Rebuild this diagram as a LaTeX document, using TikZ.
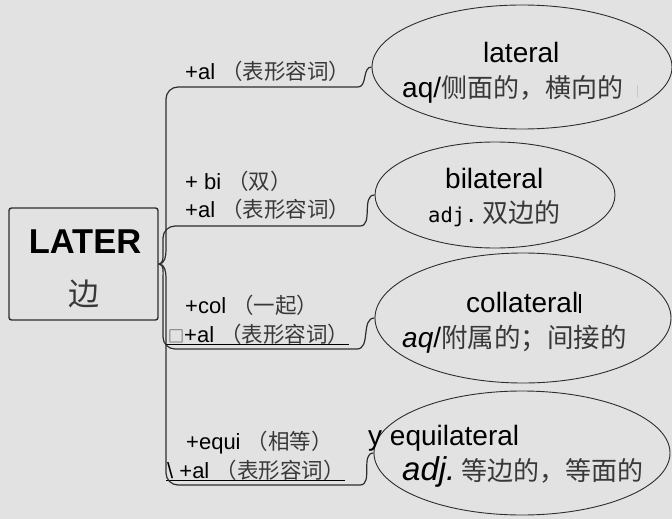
\documentclass[tikz,border=0pt]{standalone}
\usepackage{fontspec}
\setmainfont{Liberation Sans}
\setmonofont{DejaVu Sans Mono}
\newfontfamily\cjk{Noto Sans CJK SC}
\usetikzlibrary{shapes.geometric}
\definecolor{paper}{RGB}{226,226,226}
\definecolor{ink}{RGB}{45,45,45}
% chinese text, optional size in pt
\newcommand\zhtext[2][26]{{\cjk\fontsize{#1}{#1}\selectfont\color{black!78}#2}}

\begin{document}
\begin{tikzpicture}[x=1pt,y=1pt,
  bubble/.style={draw=ink,line width=0.9pt,ellipse,inner sep=0pt},
  branch/.style={draw=ink,line width=1.2pt},
  affix/.style={anchor=base west,inner sep=0pt,font=\fontsize{22}{24}\selectfont},
  gloss/.style={anchor=base west,inner sep=0pt,font=\fontsize{28}{30}\selectfont}]
% page, 672 x 519, origin top left
\fill[paper] (0,0) rectangle (672,-519);
\useasboundingbox (0,0) rectangle (672,-519);
% root box
\node[draw=ink,line width=1.4pt,rounded corners=2.5pt,minimum width=149pt,minimum height=112pt,inner sep=0pt] (root) at (83.5,-264) {};
\node[anchor=base,inner sep=0pt,font=\fontsize{34.5}{36}\selectfont\bfseries] (rootword) at (85,-253) {LATER};
\node[anchor=base,inner sep=0pt] (rootgloss) at (84,-305) {\zhtext[31]{边}};
% the four derived words
\node[bubble,minimum width=300pt,minimum height=124pt] (lat) at (522,-67) {};
\node[bubble,minimum width=240pt,minimum height=106pt] (bilat) at (495,-195) {};
\node[bubble,minimum width=296pt,minimum height=130pt] (collat) at (523,-318) {};
\node[bubble,minimum width=296pt,minimum height=124pt] (equilat) at (522,-453) {};
\node[gloss] (latword) at (483,-63) {lateral};
\node[gloss] (latgloss) at (402,-97) {aq/\zhtext{侧面的，横向的}\hspace{14pt}\textcolor{black!22}{\rule{1.2pt}{12pt}}};
\node[gloss] (bilword) at (445,-188) {bilateral};
\node[gloss] (bilgloss) at (428,-222) {{\ttfamily\fontsize{20.5}{22}\selectfont adj.}\hspace{5pt}\zhtext{双边的}};
\node[gloss] (colword) at (466,-312) {collateral\hspace{1pt}\rule[-1pt]{1.6pt}{19pt}};
\node[gloss] (colgloss) at (402,-347) {\textit{aq}/\zhtext[26.5]{附属的；间接的}};
\node[gloss] (eqword) at (368,-445) {y equilateral};
\node[gloss] (eqgloss) at (402,-480) {{\itshape\fontsize{33}{35}\selectfont adj.}\hspace{6pt}\zhtext{等边的，等面的}};
% affixes over the branches
\node[affix] (al1) at (185,-79) {+al\ \zhtext[21.5]{（表形容词）}};
\node[affix] (bi) at (185,-189) {+ bi\ \zhtext[21.5]{（双）}};
\node[affix] (al2) at (185,-217) {+al\ \zhtext[21.5]{（表形容词）}};
\node[affix] (col) at (185,-313) {+col\ \zhtext[21.5]{（一起）}};
\node[affix] (al3) at (168,-342) {\zhtext[16]{□}+al\ \zhtext[21.5]{（表形容词）}};
\node[affix] (equi) at (186,-449) {+equi\ \zhtext[21.5]{（相等）}};
\node[affix] (al4) at (167,-478) {\textbackslash\ +al\ \zhtext[21.5]{（表形容词）}};
\draw[line width=0.9pt] (165,-344) -- (349,-344);
\draw[line width=0.9pt] (166,-480) -- (345,-480);
% branches
\draw[branch] (root.east) to[out=0,in=-90] (166,-250) -- (166,-99) to[out=90,in=180] (178,-87)
  -- (358,-87) to[out=0,in=180] (lat.west);
\draw[branch] (root.east) to[out=0,in=-90] (163,-252) -- (163,-238) to[out=90,in=180] (175,-226)
  -- (360,-226) to[out=0,in=180] (bilat.west);
\draw[branch] (root.east) to[out=0,in=90] (163,-278) -- (163,-337) to[out=-90,in=180] (175,-349)
  -- (357,-349) to[out=0,in=180] (collat.west);
\draw[branch] (root.east) to[out=0,in=90] (166,-278) -- (166,-473) to[out=-90,in=180] (178,-485)
  -- (360,-485) to[out=0,in=180] (equilat.west);
\end{tikzpicture}
\end{document}
